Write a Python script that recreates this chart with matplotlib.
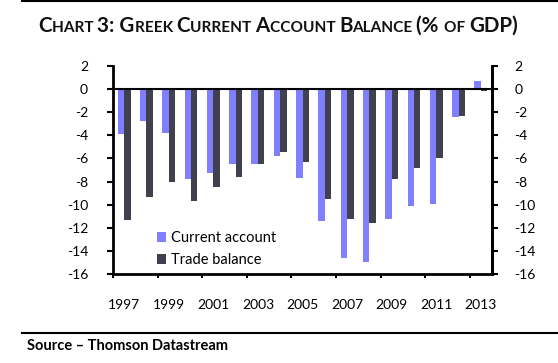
import numpy as np
import matplotlib.pyplot as plt
from matplotlib.lines import Line2D

plt.rcParams['font.family'] = ['Lato', 'DejaVu Sans']

# Data (% of GDP)
years = list(range(1997, 2014))
current_account = [-3.9, -2.8, -3.8, -7.8, -7.3, -6.5, -6.5, -5.8, -7.7, -11.4,
                   -14.6, -15.0, -11.2, -10.1, -9.9, -2.4, 0.7]
trade_balance = [-11.3, -9.3, -8.0, -9.7, -8.5, -7.6, -6.5, -5.4, -6.3, -9.5,
                 -11.2, -11.6, -7.8, -6.8, -6.0, -2.3, -0.2]
yticks = list(range(-16, 3, 2))

ca_color = '#7F7FFF'
tb_color = '#40404F'

W, H = 558, 363
fig = plt.figure(figsize=(W / 100, H / 100), dpi=100)

ax = fig.add_axes([113 / W, 1 - 274 / H, (492 - 113) / W, (274 - 66) / H])
x = np.arange(len(years))
bw = 0.29
ax.bar(x - bw / 2, current_account, bw, color=ca_color, label='Current account')
ax.bar(x + bw / 2, trade_balance, bw, color=tb_color, label='Trade balance')

ax.set_xlim(-0.5, len(years) - 0.5)
ax.set_ylim(-16, 2)
ax.axhline(0, color='black', linewidth=1.5)
ax.set_yticks(yticks)
ax.set_yticklabels([str(v) for v in yticks])

# ticks between categories every second year, labels on the categories
ax.set_xticks(np.arange(-0.5, len(years) - 0.5, 2))
ax.set_xticklabels([])
ax.set_xticks(x[::2], minor=True)
ax.set_xticklabels([str(y) for y in years[::2]], minor=True)
ax.tick_params(axis='x', which='major', direction='out', length=3, width=1.5)
ax.tick_params(axis='x', which='minor', length=0, pad=18, labelsize=10)
ax.tick_params(axis='y', direction='out', length=4, width=1.5, pad=14, labelsize=10)

ax.spines['top'].set_visible(False)
for s in ['left', 'bottom', 'right']:
    ax.spines[s].set_linewidth(2)

ax2 = ax.twinx()
ax2.set_ylim(-16, 2)
ax2.set_yticks(yticks)
ax2.set_yticklabels([str(v) for v in yticks])
ax2.tick_params(axis='y', direction='out', length=4, width=1.5, pad=12, labelsize=10)
for s in ['top', 'left', 'bottom']:
    ax2.spines[s].set_visible(False)
ax2.spines['right'].set_linewidth(2)

ax.legend(loc='lower left', bbox_to_anchor=(0.1, 0.005), frameon=False, fontsize=10.5,
          handlelength=0.65, handleheight=0.65, handletextpad=0.3, labelspacing=0.55,
          borderaxespad=0)

# rules at top and bottom
fig.add_artist(Line2D([22 / W, 1], [1 - 1 / H, 1 - 1 / H], color='black', linewidth=1.5))
fig.add_artist(Line2D([22 / W, 1], [1 - 333 / H, 1 - 333 / H], color='black', linewidth=1.5))

fig.text(27 / W, 1 - 346 / H, 'Source \u2013 Thomson Datastream', fontsize=10.5,
         fontweight='bold', va='center', ha='left')

# small caps title
big, small = 14.8, 11.1
parts = [('C', big), ('HART ', small), ('3: G', big), ('REEK ', small), ('C', big),
         ('URRENT ', small), ('A', big), ('CCOUNT ', small), ('B', big),
         ('ALANCE ', small), ('(% ', big), ('OF ', small), ('GDP)', big)]
renderer = fig.canvas.get_renderer()
texts = []
widths = []
for s, size in parts:
    t = fig.text(0, 1 - 32 / H, s.replace(' ', '\u00a0'), fontsize=size,
                 fontweight='bold', va='baseline', ha='left', color='#111111')
    texts.append(t)
    widths.append(t.get_window_extent(renderer).width)
total = sum(widths)
xpos = 278 - total / 2
for t, w in zip(texts, widths):
    t.set_x(xpos / W)
    xpos += w

fig.savefig('out.png', dpi=100)
